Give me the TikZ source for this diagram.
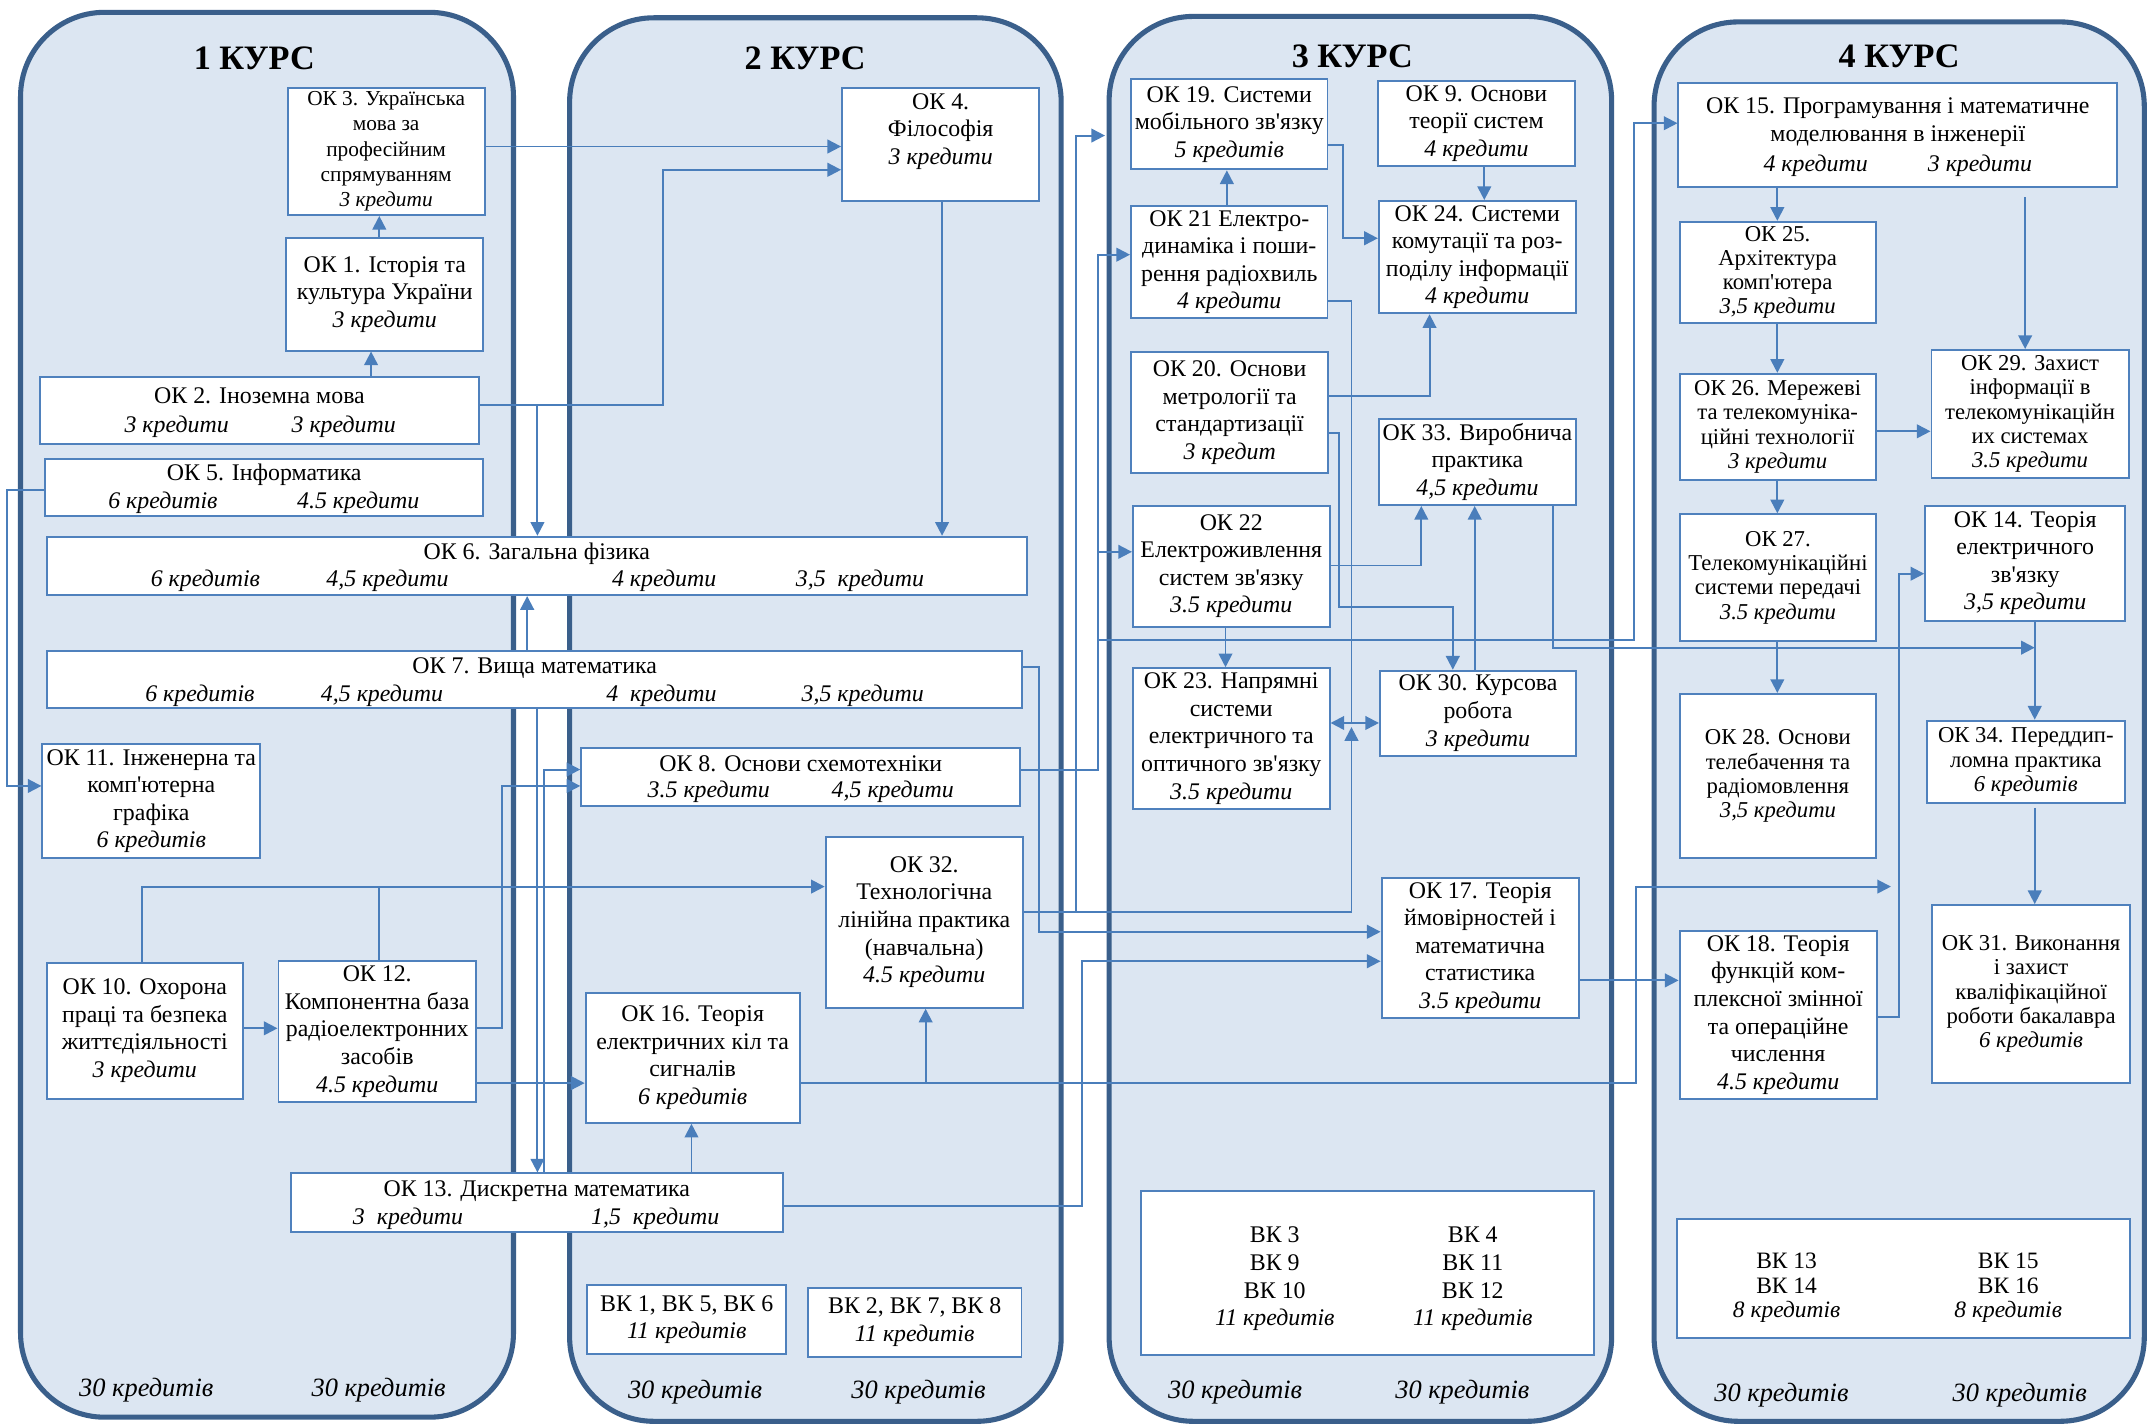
\documentclass[tikz,border=0pt]{standalone}
\usepackage{fontspec}
\setmainfont{Liberation Serif}
\usetikzlibrary{arrows.meta}
\pgfdeclarelayer{bg}
\pgfdeclarelayer{mid}
\pgfsetlayers{bg,mid,main}
\definecolor{panelfill}{HTML}{DCE6F2}
\definecolor{paneldraw}{HTML}{3A5F8B}
\definecolor{boxdraw}{HTML}{4F81BD}
\definecolor{linec}{HTML}{4A7EBB}
\newcommand{\nfont}{\fontsize{12.2}{14.1}\selectfont}
\newcommand{\smfont}{\fontsize{11.6}{12.4}\selectfont}
\newcommand{\okthreefont}{\fontsize{10.9}{13}\selectfont}
\newcommand{\vkfont}{\fontsize{12}{12.6}\selectfont}
\newcommand{\ap}{\textquotesingle}
\newcommand{\obox}[7][]{%
  \pgfmathsetmacro{\oboxw}{(#5-#3)*0.7}%
  \pgfmathsetmacro{\oboxh}{(#6-#4)*0.7}%
  \pgfmathsetmacro{\oboxx}{(#3+#5)/2}%
  \pgfmathsetmacro{\oboxy}{(#4+#6)/2}%
  \node[box,#1,minimum width=\oboxw pt,minimum height=\oboxh pt] (#2) at (\oboxx,\oboxy) {#7};}
\tikzset{
  box/.style={draw=boxdraw, fill=white, line width=1pt, inner sep=0pt, align=center, font=\nfont},
  txt/.style={inner sep=0pt, font=\nfont, text height=8.5pt, text depth=2pt},
  mtxt/.style={inner sep=0pt, font=\nfont, align=center},
  con/.style={draw=linec, line width=1pt},
  arr/.style={con, -{Triangle[length=7pt,width=7pt]}},
  panel/.style={draw=paneldraw, fill=panelfill, line width=2.6pt, rounded corners=43pt},
  ttl/.style={inner sep=0pt, font=\fontsize{17.5}{20}\selectfont\bfseries},
  cred/.style={inner sep=0pt, font=\fontsize{13.5}{15}\selectfont\itshape}
}
\begin{document}
\begin{tikzpicture}[x=0.7pt,y=-0.7pt]
\useasboundingbox (0,0) rectangle (1568,1041);
\begin{pgfonlayer}{bg}
\fill[white] (0,0) rectangle (1568,1041);
\draw[panel] (15,9) rectangle (375,1035);
\draw[panel] (416,13) rectangle (775,1038);
\draw[panel] (810,12) rectangle (1177,1038);
\draw[panel] (1208,16) rectangle (1566,1038);
\end{pgfonlayer}
% titles
\node[ttl] (t1) at (185.7,42.6) {1 КУРС};
\node[ttl] (t2) at (588,42.6) {2 КУРС};
\node[ttl] (t3) at (987.6,41.4) {3 КУРС};
\node[ttl] (t4) at (1387,41.4) {4 КУРС};
% course credits
\node[cred] (c1a) at (106.8,1015) {30 кредитів};
\node[cred] (c1b) at (276.5,1015) {30 кредитів};
\node[cred] (c2a) at (507.6,1017) {30 кредитів};
\node[cred] (c2b) at (670.8,1017) {30 кредитів};
\node[cred] (c3a) at (902,1017) {30 кредитів};
\node[cred] (c3b) at (1068,1017) {30 кредитів};
\node[cred] (c4a) at (1301,1019) {30 кредитів};
\node[cred] (c4b) at (1475,1019) {30 кредитів};
% boxes course 1
\obox[font=\okthreefont]{ok3}{210}{64}{354}{157}{ОК 3. Українська\\мова за\\професійним\\спрямуванням\\\textit{3 кредити}}
\obox{ok1}{209}{174}{353}{256}{ОК 1. Історія та\\культура України\\\textit{3 кредити}}
\obox{ok2}{29}{275}{350}{324}{}
\obox{ok5}{33}{335}{353}{377}{}
\obox{ok6}{34.5}{392}{750}{434.6}{}
\obox{ok7}{34.5}{475.6}{746.5}{517}{}
\obox{ok11}{31}{543.4}{190}{626.6}{ОК 11. Інженерна та\\комп\ap ютерна\\графіка\\\textit{6 кредитів}}
\obox{ok10}{34}{703}{177.4}{802.6}{ОК 10. Охорона\\праці та безпека\\життєдіяльності\\\textit{3 кредити}}
\obox{ok12}{203.4}{702}{347.6}{804.7}{ОК 12.\\Компонентна база\\радіоелектронних\\засобів\\\textit{4.5 кредити}}
\obox{ok13}{212.5}{857}{571.8}{899.5}{}
% course 2
\obox{ok4}{615}{64}{759}{146.6}{}
\obox{ok8}{424.5}{546}{745}{588.6}{}
\obox{ok32}{603}{611}{747}{736}{ОК 32.\\Технологічна\\лінійна практика\\(навчальна)\\\textit{4.5 кредити}}
\obox{ok16}{427.7}{725}{584}{820}{ОК 16. Теорія\\електричних кіл та\\сигналів\\\textit{6 кредитів}}
\obox{vk1}{429}{938.5}{574}{989}{ВК 1, ВК 5, ВК 6\\\textit{11 кредитів}}
\obox{vk2}{590}{940.7}{746}{990.8}{ВК 2, ВК 7, ВК 8\\\textit{11 кредитів}}
% course 3
\obox{ok19}{826}{58}{969.5}{123.7}{ОК 19. Системи\\мобільного зв\ap язку\\\textit{5 кредитів}}
\obox{ok9}{1006.6}{59}{1150}{121}{ОК 9. Основи\\теорії систем\\\textit{4 кредити}}
\obox{ok21}{826}{150.4}{969.5}{232.5}{ОК 21 Електро-\\динаміка і поши-\\рення радіохвиль\\\textit{4 кредити}}
\obox{ok24}{1007}{146.8}{1150.7}{228.8}{ОК 24. Системи\\комутації та роз-\\поділу інформації\\\textit{4 кредити}}
\obox{ok20}{826}{256.8}{970}{345.7}{ОК 20. Основи\\метрології та\\стандартизації\\\textit{3 кредит}}
\obox{ok33}{1007}{306}{1151}{368.8}{ОК 33. Виробнича\\практика\\\textit{4,5 кредити}}
\obox{ok22}{827.4}{369.3}{971}{457.6}{ОК 22\\Електроживлення\\систем зв\ap язку\\\textit{3.5 кредити}}
\obox{ok23}{827.4}{488}{971}{590.8}{ОК 23. Напрямні\\системи\\електричного та\\оптичного зв\ap язку\\\textit{3.5 кредити}}
\obox{ok30}{1007.8}{489.8}{1151}{551.9}{ОК 30. Курсова\\робота\\\textit{3 кредити}}
\obox{ok17}{1009}{641}{1153}{743.5}{ОК 17. Теорія\\ймовірностей і\\математична\\статистика\\\textit{3.5 кредити}}
\obox{vk3}{833.6}{870}{1164}{989.6}{}
% course 4
\obox{ok15}{1225.8}{60.8}{1546.4}{136.8}{}
\obox[font=\smfont]{ok25}{1226.6}{162}{1369.8}{236}{ОК 25.\\Архітектура\\комп\ap ютера\\\textit{3,5 кредити}}
\obox[font=\smfont]{ok26}{1226.6}{273}{1369.8}{350.5}{ОК 26. Мережеві\\та телекомуніка-\\ційні технології\\\textit{3 кредити}}
\obox[font=\smfont]{ok29}{1410.6}{255.6}{1554.5}{349}{ОК 29. Захист\\інформації в\\телекомунікаційн\\их системах\\\textit{3.5 кредити}}
\obox[font=\smfont]{ok27}{1226.6}{375.6}{1370.3}{468}{ОК 27.\\Телекомунікаційні\\системи передачі\\\textit{3.5 кредити}}
\obox{ok14}{1406}{369.3}{1552}{453.3}{ОК 14. Теорія\\електричного\\зв\ap язку\\\textit{3,5 кредити}}
\obox[font=\smfont]{ok28}{1226.6}{506.8}{1370.3}{626.8}{ОК 28. Основи\\телебачення та\\радіомовлення\\\textit{3,5 кредити}}
\obox[font=\smfont]{ok34}{1407}{526.3}{1552}{586.7}{ОК 34. Переддип-\\ломна практика\\\textit{6 кредитів}}
\obox{ok18}{1226.6}{679.7}{1370.6}{802.6}{ОК 18. Теорія\\функцій ком-\\плексної змінної\\та операційне\\числення\\\textit{4.5 кредити}}
\obox[font=\smfont]{ok31}{1411.3}{661}{1555.3}{791}{ОК 31. Виконання\\і захист\\кваліфікаційної\\роботи бакалавра\\\textit{6 кредитів}}
\obox{vk4}{1225}{890.5}{1555.3}{977}{}
% texts of wide boxes
\node[txt] (ok2t) at (189.5,290) {ОК 2. Іноземна мова};
\node[txt] (ok2a) at (129,311) {\textit{3 кредити}};
\node[txt] (ok2b) at (251,311) {\textit{3 кредити}};
\node[txt] (ok5t) at (193,346) {ОК 5. Інформатика};
\node[txt] (ok5a) at (119,367) {\textit{6 кредитів}};
\node[txt] (ok5b) at (261.6,367) {\textit{4.5 кредити}};
\node[txt] (ok6t) at (392,404) {ОК 6. Загальна фізика};
\node[txt] (ok6a) at (150,424) {\textit{6 кредитів}};
\node[txt] (ok6b) at (283,424) {\textit{4,5 кредити}};
\node[txt] (ok6c) at (485,424) {\textit{4 кредити}};
\node[txt] (ok6d) at (628,424) {\textit{3,5\enspace кредити}};
\node[txt] (ok7t) at (390.5,487) {ОК 7. Вища математика};
\node[txt] (ok7a) at (146,507.6) {\textit{6 кредитів}};
\node[txt] (ok7b) at (279,507.6) {\textit{4,5 кредити}};
\node[txt] (ok7c) at (483,507.6) {\textit{4\enspace кредити}};
\node[txt] (ok7d) at (630,507.6) {\textit{3,5 кредити}};
\node[txt] (ok8t) at (584.8,558.7) {ОК 8. Основи схемотехніки};
\node[txt] (ok8a) at (517.6,578) {\textit{3.5 кредити}};
\node[txt] (ok8b) at (652,578) {\textit{4,5 кредити}};
\node[txt] (ok13t) at (392,869) {ОК 13. Дискретна математика};
\node[txt] (ok13a) at (298,889.6) {\textit{3\enspace кредити}};
\node[txt] (ok13b) at (478.5,889.6) {\textit{1,5\enspace кредити}};
\node[mtxt] (ok4t) at (687,96) {ОК 4.\\Філософія\\\textit{3 кредити}};
\node[mtxt] (ok15t) at (1386,89.4) {ОК 15. Програмування і математичне\\моделювання в інженерії};
\node[txt] (ok15a) at (1326,120.5) {\textit{4 кредити}};
\node[txt] (ok15b) at (1446,120.5) {\textit{3 кредити}};
\node[mtxt] (vk3a) at (931,934) {ВК 3\\ВК 9\\ВК 10\\\textit{11 кредитів}};
\node[mtxt] (vk3b) at (1075.6,934) {ВК 4\\ВК 11\\ВК 12\\\textit{11 кредитів}};
\node[mtxt,font=\vkfont] (vk4a) at (1304.8,940.7) {ВК 13\\ВК 14\\\textit{8 кредитів}};
\node[mtxt,font=\vkfont] (vk4b) at (1466.6,940.7) {ВК 15\\ВК 16\\\textit{8 кредитів}};
% channel coordinates
\foreach \n/\v in {5/5,104/104,271/271,277/277,366/366.6,385/385,392/392.5,397/397,484/484,505/505,676/676,688/688,759/759,785/785.6,790/790,802/802,807/807,895/895,896/896,978/978,981/981,987/987,1038/1038,1044/1044,1061/1061,1077/1077,1084/1084,1134/1134,1193/1193,1195/1195,1298/1298,1381/1381,1387/1387,1479/1479,1486/1486}
  {\coordinate (X\n) at (\v,0);}
\foreach \n/\v in {90/90,99/99,106/106,107/107,124/124,144/144,174/174,186/186,220/220,289/289,296/296,315/315,316/316,358/358,403/403,413/413,419/419,443/443,467/467.4,473/473,487/487,528/528,531/531,562/562,574/574,590/590,647/647.5,666/666,680/680.5,702/702,716/716,743/743,751/751,791/791,881/881}
  {\coordinate (Y\n) at (0,\v);}
\begin{pgfonlayer}{mid}
\draw[arr] (ok1.north -| X277) -- (ok3.south -| X277);
\draw[arr] (ok2.north -| X271) -- (ok1.south -| X271);
\draw[arr] (ok3.east |- Y107) -- (ok4.west |- Y107);
\draw[arr] (ok2.east |- Y296) -- (X484 |- Y296) -- (X484 |- Y124) -- (ok4.west |- Y124);
\draw[arr] (X392 |- Y296) -- (ok6.north -| X392);
\draw[arr] (ok4.south -| X688) -- (ok6.north -| X688);
\draw[arr] (ok5.west |- Y358) -- (X5 |- Y358) -- (X5 |- Y574) -- (ok11.west |- Y574);
\draw[arr] (ok7.north -| X385) -- (ok6.south -| X385);
\draw[arr] (ok7.south -| X392) -- (ok13.north -| X392);
\draw[arr] (ok13.north -| X397) -- (X397 |- Y562) -- (ok8.west |- Y562);
\draw[arr] (ok12.east |- Y751) -- (X366 |- Y751) -- (X366 |- Y574) -- (ok8.west |- Y574);
\draw[arr] (ok10.east |- Y751) -- (ok12.west |- Y751);
\draw[arr] (ok10.north -| X104) -- (X104 |- Y647) -- (ok32.west |- Y647);
\draw[con] (ok12.north -| X277) -- (X277 |- Y647);
\draw[arr] (ok12.east |- Y791) -- (ok16.west |- Y791);
\draw[arr] (ok13.north -| X505) -- (ok16.south -| X505);
\draw[arr] (ok13.east |- Y881) -- (X790 |- Y881) -- (X790 |- Y702) -- (ok17.west |- Y702);
\draw[arr] (ok7.east |- Y487) -- (X759 |- Y487) -- (X759 |- Y680) -- (ok17.west |- Y680);
\draw[arr] (X676 |- Y791) -- (ok32.south -| X676);
\draw[arr] (ok16.east |- Y791) -- (X1195 |- Y791) -- (X1195 |- Y647) -- (X1381 |- Y647);
\draw[arr] (ok18.east |- Y743) -- (X1387 |- Y743) -- (X1387 |- Y419) -- (ok14.west |- Y419);
\draw[arr] (ok8.east |- Y562) -- (X802 |- Y562) -- (X802 |- Y186) -- (ok21.west |- Y186);
\draw[arr] (X802 |- Y403) -- (ok22.west |- Y403);
\draw[arr] (X802 |- Y467) -- (X1193 |- Y467) -- (X1193 |- Y90) -- (ok15.west |- Y90);
\draw[arr] (ok32.east |- Y666) -- (X987 |- Y666) -- (X987 |- Y531);
\draw[arr] (X785 |- Y666) -- (X785 |- Y99) -- (X807 |- Y99);
\draw[con] (ok21.east |- Y220) -- (X987 |- Y220) -- (X987 |- Y528);
\draw[arr] (X987 |- Y528) -- (ok23.east |- Y528);
\draw[arr] (X987 |- Y528) -- (ok30.west |- Y528);
\draw[arr] (ok21.north -| X896) -- (ok19.south -| X896);
\draw[arr] (ok9.south -| X1084) -- (ok24.north -| X1084);
\draw[arr] (ok19.east |- Y106) -- (X981 |- Y106) -- (X981 |- Y174) -- (ok24.west |- Y174);
\draw[arr] (ok20.east |- Y289) -- (X1044 |- Y289) -- (ok24.south -| X1044);
\draw[arr] (ok20.east |- Y316) -- (X978 |- Y316) -- (X978 |- Y443) -- (X1061 |- Y443) -- (ok30.north -| X1061);
\draw[arr] (ok22.east |- Y413) -- (X1038 |- Y413) -- (ok33.south -| X1038);
\draw[arr] (ok30.north -| X1077) -- (ok33.south -| X1077);
\draw[arr] (ok22.south -| X895) -- (ok23.north -| X895);
\draw[arr] (ok33.south -| X1134) -- (X1134 |- Y473) -- (X1486 |- Y473);
\draw[arr] (ok14.south -| X1486) -- (ok34.north -| X1486);
\draw[arr] (X1486 |- Y590) -- (ok31.north -| X1486);
\draw[arr] (ok17.east |- Y716) -- (ok18.west |- Y716);
\draw[arr] (ok15.south -| X1298) -- (ok25.north -| X1298);
\draw[arr] (ok25.south -| X1298) -- (ok26.north -| X1298);
\draw[arr] (ok26.south -| X1298) -- (ok27.north -| X1298);
\draw[arr] (ok27.south -| X1298) -- (ok28.north -| X1298);
\draw[arr] (ok26.east |- Y315) -- (ok29.west |- Y315);
\draw[arr] (X1479 |- Y144) -- (ok29.north -| X1479);
\end{pgfonlayer}
\end{tikzpicture}
\end{document}
